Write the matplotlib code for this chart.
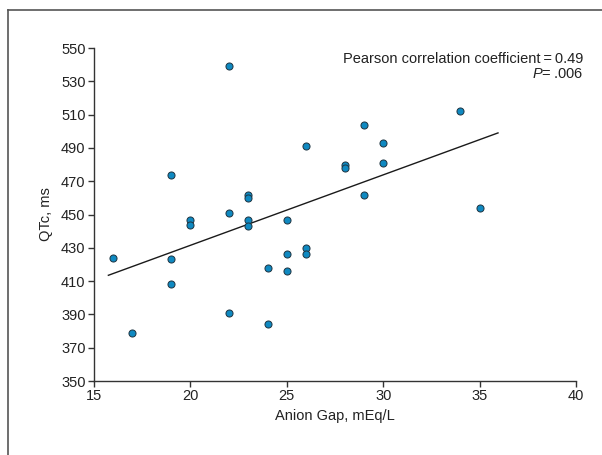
import matplotlib
matplotlib.use("Agg")
import matplotlib.pyplot as plt
from matplotlib.lines import Line2D

plt.rcParams['font.family'] = ['Liberation Sans Narrow', 'Liberation Sans', 'DejaVu Sans']
plt.rcParams['mathtext.fontset'] = 'custom'
plt.rcParams['mathtext.it'] = 'Liberation Sans:italic'
plt.rcParams['mathtext.rm'] = 'Liberation Sans'

# anion gap (mEq/L) vs QTc (ms)
anion_gap = [16, 17, 19, 19, 19, 20, 20, 22, 22, 22, 23, 23, 23, 23, 24,
             24, 25, 25, 25, 26, 26, 26, 28, 28, 29, 29, 30, 30, 34, 35]
qtc = [424, 379, 474, 423, 408, 447, 444, 539, 451, 391, 462, 460, 447, 443, 418,
       384, 447, 426, 416, 491, 430, 426, 480, 478, 504, 462, 493, 481, 512, 454]

# regression line end points
fit_x = [15.75, 35.95]
fit_y = [413.5, 499.0]

x_ticks = [15, 20, 25, 30, 35, 40]
y_ticks = list(range(350, 551, 20))

fig = plt.figure(figsize=(6.02, 4.55), dpi=100)
ax = fig.add_axes([0.156, 0.1626, 0.801, 0.7319])

ax.plot(fit_x, fit_y, color='#1a1a1a', lw=1.0, zorder=2)
ax.scatter(anion_gap, qtc, s=26, color='#0f89c1', edgecolors='#1e3340',
           linewidths=0.7, zorder=3)

ax.set_xlim(15, 40)
ax.set_ylim(350, 550)
ax.set_xticks(x_ticks)
ax.set_yticks(y_ticks)
ax.spines['top'].set_visible(False)
ax.spines['right'].set_visible(False)
for s in ['left', 'bottom']:
    ax.spines[s].set_color('#333333')
    ax.spines[s].set_linewidth(1.0)
ax.tick_params(direction='out', length=4, width=1.0, color='#333333',
               labelsize=10.5, labelcolor='#222222', pad=2)

ax.set_xlabel('Anion Gap, mEq/L', fontsize=10.5, color='#222222', labelpad=4)
ax.set_ylabel('QTc, ms', fontsize=10.5, color='#222222', labelpad=6)

ax.text(1.0145, 0.967, 'Pearson correlation coefficient\u2009=\u20090.49',
        transform=ax.transAxes, ha='right', va='center', fontsize=10.5,
        color='#222222')
ax.text(1.0145, 0.922, '$\\mathit{P}$=\u2009.006', transform=ax.transAxes,
        ha='right', va='center', fontsize=10.5, color='#222222')

# frame around the figure (only top and left edges fall inside the crop)
fig.add_artist(Line2D([8/602, 8/602], [0, 1 - 10/455], transform=fig.transFigure,
                      color='#555555', lw=1.2))
fig.add_artist(Line2D([8/602, 1], [1 - 10/455, 1 - 10/455], transform=fig.transFigure,
                      color='#555555', lw=1.2))

fig.savefig('out.png', dpi=100)
